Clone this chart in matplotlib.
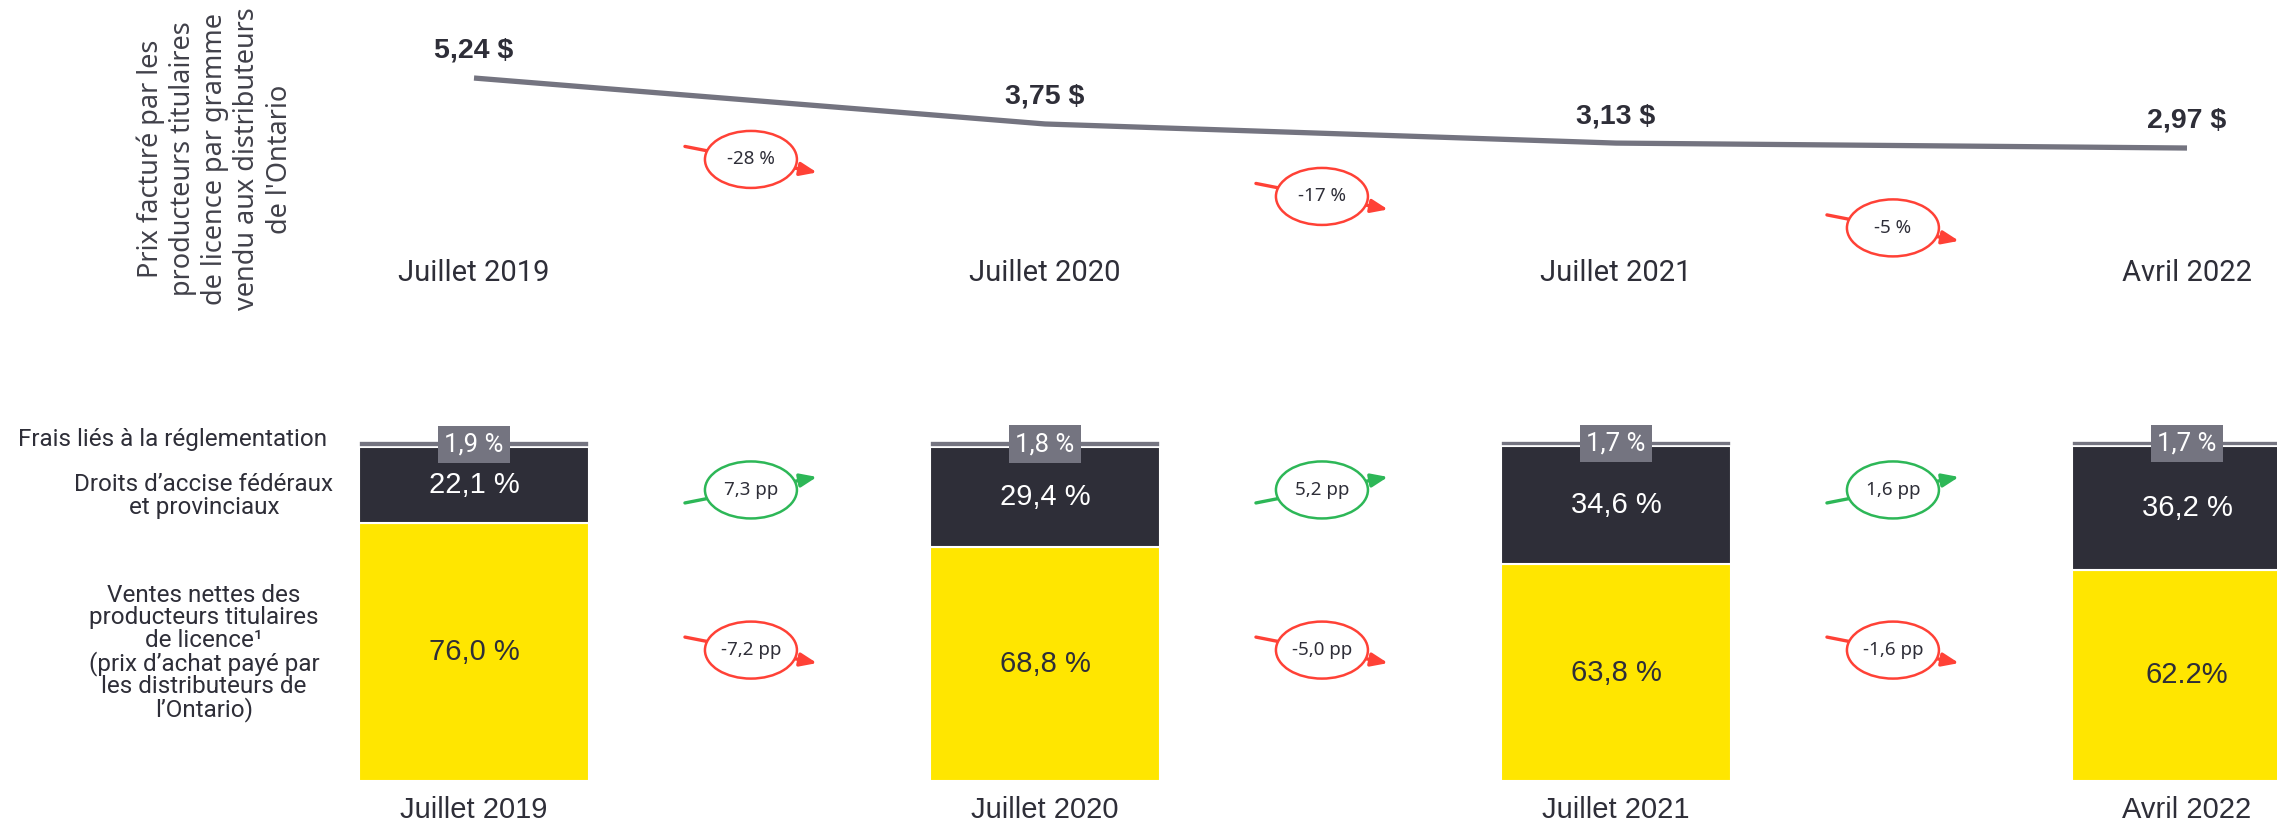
import matplotlib.pyplot as plt
import matplotlib.transforms as mtransforms
from matplotlib.patches import Ellipse, FancyArrowPatch

# data
periods = ['Juillet 2019', 'Juillet 2020', 'Juillet 2021', 'Avril 2022']
price = [5.24, 3.75, 3.13, 2.97]
price_labels = ['5,24 $', '3,75 $', '3,13 $', '2,97 $']
price_change = ['-28 %', '-17 %', '-5 %']

regulation = [1.9, 1.8, 1.7, 1.7]
excise = [22.1, 29.4, 34.6, 36.2]
net_sales = [76.0, 68.8, 63.8, 62.2]
reg_labels = ['1,9 %', '1,8 %', '1,7 %', '1,7 %']
excise_labels = ['22,1 %', '29,4 %', '34,6 %', '36,2 %']
net_labels = ['76,0 %', '68,8 %', '63,8 %', '62.2%']
excise_change = ['7,3 pp', '5,2 pp', '1,6 pp']
net_change = ['-7,2 pp', '-5,0 pp', '-1,6 pp']

YELLOW = '#ffe600'
DARK = '#2e2e38'
GREY = '#747480'
RED = '#ff4136'
GREEN = '#2db757'
TXT = '#2e2e38'

W, H = 2277, 824
fig = plt.figure(figsize=(W / 100, H / 100), dpi=100)
fig.patch.set_facecolor('white')

# both axes cover the whole figure, x shared: category i sits at 474 + 571*i px
x0, step = 474, 571
xlim = (-x0 / step, (W - x0) / step)
xs = list(range(len(periods)))

ax_top = fig.add_axes([0, 0, 1, 1])
ax_bot = fig.add_axes([0, 0, 1, 1])
for ax in (ax_top, ax_bot):
    ax.set_xlim(*xlim)
    ax.axis('off')
    ax.patch.set_alpha(0)
ax_top.set_ylim(-18.95, 7.77)
ax_bot.set_ylim(-12.65, 229.7)


def px(x, y):
    return x / W, 1 - y / H


def bubble(ax, x, y, text, color, rising):
    tr = fig.dpi_scale_trans + mtransforms.ScaledTranslation(x, y, ax.transData)
    dy = 0.13 if rising else -0.13
    arr = FancyArrowPatch((-0.66, -dy), (0.66, dy), transform=tr,
                          arrowstyle='-|>,head_length=0.5,head_width=0.2',
                          mutation_scale=20, color=color, lw=2.4,
                          shrinkA=0, shrinkB=0, zorder=5, clip_on=False)
    ax.add_patch(arr)
    ell = Ellipse((0, 0), 0.92, 0.57, transform=tr, facecolor='white',
                  edgecolor=color, lw=1.8, zorder=6, clip_on=False)
    ax.add_patch(ell)
    ax.text(x, y, text, ha='center', va='center', fontsize=13.5,
            family=['Noto Sans', 'DejaVu Sans'], color=TXT, zorder=7)


# ---- top: price line
ax_top.plot(xs, price, color=GREY, lw=3.8, solid_capstyle='butt', zorder=3)
for i, (v, lbl) in enumerate(zip(price, price_labels)):
    ax_top.annotate(lbl, (i, v), xytext=(0, 19.5), textcoords='offset points',
                    ha='center', va='center', fontsize=20.5, fontweight='bold',
                    family='Liberation Sans', color=TXT)

cat_tr = mtransforms.blended_transform_factory(ax_top.transData, fig.transFigure)
for i, p in enumerate(periods):
    ax_top.text(i, 1 - 273 / H, p, transform=cat_tr, ha='center', va='center',
                fontsize=21, family='Roboto', color=TXT)

top_bubble_y = [2.6, 1.4, 0.38]
for i, t in enumerate(price_change):
    bubble(ax_top, i + 0.485, top_bubble_y[i], t, RED, False)

fig.text(*px(215, 159),
         "Prix facturé par les\nproducteurs titulaires\nde licence par gramme\n"
         "vendu aux distributeurs\nde l'Ontario",
         rotation=90, ha='center', va='center', multialignment='center',
         fontsize=19.5, family=['Noto Sans', 'DejaVu Sans'], color='#41414a',
         linespacing=1.2)

# ---- bottom: stacked bars
bw = 230 / step
ax_bot.bar(xs, net_sales, width=bw, color=YELLOW, edgecolor='white', lw=1.5, zorder=2)
ax_bot.bar(xs, excise, width=bw, bottom=net_sales, color=DARK,
           edgecolor='white', lw=1.5, zorder=2)
reg_bottom = [n + e for n, e in zip(net_sales, excise)]
ax_bot.bar(xs, regulation, width=bw, bottom=reg_bottom, color=GREY,
           edgecolor='white', lw=1.2, zorder=2)

for i in xs:
    ax_bot.text(i, net_sales[i] / 2, net_labels[i], ha='center', va='center',
                fontsize=21, family='Liberation Sans', color=TXT, zorder=4)
    ax_bot.text(i, net_sales[i] + excise[i] / 2, excise_labels[i], ha='center',
                va='center', fontsize=21, family='Liberation Sans',
                color='white', zorder=4)
    ax_bot.text(i, reg_bottom[i] + regulation[i] / 2, reg_labels[i],
                ha='center', va='center', fontsize=18.5, family='Roboto',
                color='white', zorder=4,
                bbox=dict(boxstyle='square,pad=0.26', fc=GREY, ec='none'))

bot_tr = mtransforms.blended_transform_factory(ax_bot.transData, fig.transFigure)
for i, p in enumerate(periods):
    ax_bot.text(i, 1 - 810 / H, p, transform=bot_tr, ha='center', va='center',
                fontsize=21, family='Liberation Sans', color=TXT)

for i in range(3):
    bubble(ax_bot, i + 0.485, 85.6, excise_change[i], GREEN, True)
    bubble(ax_bot, i + 0.485, 38.5, net_change[i], RED, False)

# left-hand row labels
lab = dict(fontsize=17.5, family=['Roboto', 'DejaVu Sans'], color=TXT,
           va='center', linespacing=0.95)
fig.text(*px(327, 439), "Frais liés à la réglementation", ha='right', **lab)
fig.text(*px(204, 496), "Droits d’accise fédéraux\net provinciaux",
         ha='center', multialignment='center', **lab)
fig.text(*px(204, 653),
         "Ventes nettes des\nproducteurs titulaires\nde licence¹\n"
         "(prix d’achat payé par\nles distributeurs de\nl’Ontario)",
         ha='center', multialignment='center', **lab)

fig.savefig('out.png', dpi=100, facecolor='white')
